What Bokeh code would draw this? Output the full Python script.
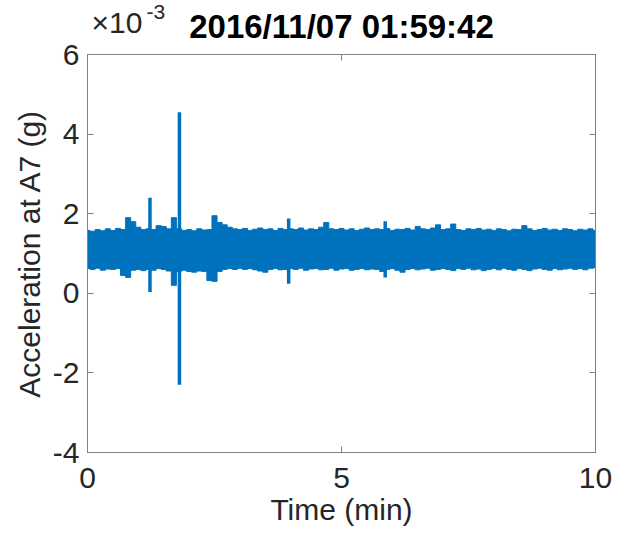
from bokeh.plotting import figure
from bokeh.layouts import column
from bokeh.models import Range1d, LinearAxis, FixedTicker, ColumnDataSource
from bokeh.core.properties import value
from bokeh.embed import file_html
from bokeh.resources import INLINE

# ---- data (values in units of 1e-3 g) ----
title_text = "2016/11/07 01:59:42"
exponent_base = "\u00d710"
exponent_power = "-3"
x_ticks = [0, 5, 10]
y_ticks = [-4, -2, 0, 2, 4, 6]
y_tick_labels = {-4: "-4", -2: "-2", 0: "0", 2: "2", 4: "4", 6: "6"}

# envelope of the dense vibration record, sampled every 0.1 min
env_time = [i / 10 for i in range(101)]
env_upper = [
    1.58, 1.56, 1.60, 1.57, 1.62, 1.58, 1.63, 1.60, 1.90, 1.80,
    1.66, 1.60, 1.62, 1.60, 1.70, 1.68, 1.62, 1.90, 1.62, 1.58,
    1.60, 1.57, 1.62, 1.59, 1.60, 1.95, 1.78, 1.72, 1.66, 1.62,
    1.60, 1.63, 1.58, 1.61, 1.64, 1.60, 1.62, 1.58, 1.63, 1.60,
    1.62, 1.60, 1.64, 1.59, 1.62, 1.60, 1.66, 1.78, 1.62, 1.60,
    1.63, 1.59, 1.62, 1.58, 1.61, 1.64, 1.60, 1.62, 1.60, 1.63,
    1.58, 1.61, 1.60, 1.63, 1.59, 1.68, 1.62, 1.60, 1.64, 1.72,
    1.60, 1.62, 1.74, 1.60, 1.58, 1.62, 1.60, 1.63, 1.59, 1.61,
    1.58, 1.62, 1.60, 1.57, 1.61, 1.60, 1.70, 1.62, 1.58, 1.60,
    1.63, 1.59, 1.61, 1.58, 1.62, 1.60, 1.57, 1.61, 1.59, 1.62,
    1.58,
]
env_lower = [
    0.62, 0.60, 0.63, 0.58, 0.61, 0.60, 0.62, 0.45, 0.40, 0.58,
    0.60, 0.57, 0.60, 0.58, 0.62, 0.60, 0.56, 0.20, 0.55, 0.58,
    0.55, 0.53, 0.56, 0.55, 0.32, 0.30, 0.55, 0.60, 0.62, 0.60,
    0.63, 0.60, 0.62, 0.59, 0.56, 0.53, 0.60, 0.62, 0.59, 0.60,
    0.62, 0.60, 0.63, 0.58, 0.61, 0.62, 0.59, 0.60, 0.63, 0.58,
    0.61, 0.62, 0.58, 0.60, 0.62, 0.59, 0.61, 0.60, 0.55, 0.60,
    0.62, 0.58, 0.53, 0.60, 0.62, 0.59, 0.61, 0.63, 0.58, 0.60,
    0.62, 0.60, 0.57, 0.62, 0.60, 0.63, 0.59, 0.61, 0.57, 0.60,
    0.62, 0.59, 0.63, 0.60, 0.58, 0.62, 0.60, 0.57, 0.61, 0.63,
    0.60, 0.58, 0.62, 0.59, 0.61, 0.63, 0.60, 0.62, 0.59, 0.63,
    0.64,
]

# isolated short spikes
spike_time = [1.23, 1.81, 3.96, 5.86]
spike_top = [2.40, 4.55, 1.88, 1.81]
spike_bottom = [0.03, -2.30, 0.24, 0.40]

# ---- styling ----
BLUE = "#0072BD"
AX = "#808080"
TXT = "#262626"
FONT = "Liberation Sans"
W = 626
HEAD_H = 40
MAIN_H = 544 - HEAD_H

# ---- header strip: exponent marker and title ----
head = figure(width=W, height=HEAD_H, x_range=Range1d(0, W), y_range=Range1d(0, HEAD_H),
              output_backend="svg", toolbar_location=None,
              x_axis_type=None, y_axis_type=None,
              min_border=0, min_border_left=0, min_border_right=0,
              min_border_top=0, min_border_bottom=0)
if "frame_align" in head.properties():
    head.frame_align = False
head.outline_line_color = None
head.xgrid.visible = False
head.ygrid.visible = False
head.text(x=[341], y=[14], text=[title_text], text_font=value(FONT),
          text_font_size="33px", text_font_style="bold", text_color="#000000",
          text_align="center", text_baseline="alphabetic")
head.text(x=[91], y=[18], text=[exponent_base], text_font=value(FONT),
          text_font_size="30px", text_color=TXT, text_align="left",
          text_baseline="alphabetic")
head.text(x=[146], y=[29], text=[exponent_power], text_font=value(FONT),
          text_font_size="21px", text_color=TXT, text_align="left",
          text_baseline="alphabetic")

# ---- main plot ----
p = figure(width=W, height=MAIN_H, x_range=Range1d(0, 10), y_range=Range1d(-4, 6),
           output_backend="svg", toolbar_location=None,
           min_border_left=87, min_border_right=31, min_border_top=14, min_border_bottom=92,
           x_axis_label="Time (min)", y_axis_label="Acceleration at A7 (g)")
if "frame_align" in p.properties():
    p.frame_align = False

p.xgrid.visible = False
p.ygrid.visible = False
p.outline_line_color = AX
p.background_fill_color = "white"
p.border_fill_color = "white"

src_env = ColumnDataSource(dict(t=env_time, up=env_upper, lo=env_lower))
p.vbar(x="t", top="up", bottom="lo", width=0.1, source=src_env,
       fill_color=BLUE, line_color=BLUE, line_width=1)

src_sp = ColumnDataSource(dict(t=spike_time, up=spike_top, lo=spike_bottom))
p.segment(x0="t", y0="lo", x1="t", y1="up", source=src_sp,
          line_color=BLUE, line_width=3.5)

for ax in (p.xaxis[0], p.yaxis[0]):
    ax.axis_line_color = AX
    ax.major_tick_line_color = AX
    ax.major_tick_in = 6
    ax.major_tick_out = 0
    ax.minor_tick_line_color = None
    ax.major_label_text_font = FONT
    ax.major_label_text_font_size = "30px"
    ax.major_label_text_color = TXT
    ax.axis_label_text_font = FONT
    ax.axis_label_text_font_size = "30px"
    ax.axis_label_text_font_style = "normal"
    ax.axis_label_text_color = TXT

p.xaxis[0].ticker = FixedTicker(ticks=x_ticks)
p.yaxis[0].ticker = FixedTicker(ticks=y_ticks)
p.yaxis[0].major_label_overrides = y_tick_labels
p.xaxis[0].major_label_standoff = 15
p.yaxis[0].major_label_standoff = 8
p.xaxis[0].axis_label_standoff = 2
p.yaxis[0].axis_label_standoff = 4

# box ticks on top and right (no labels)
top_ax = LinearAxis(ticker=FixedTicker(ticks=x_ticks), major_label_text_font_size="0px",
                    major_label_overrides={t: "" for t in x_ticks},
                    axis_line_color=AX, major_tick_line_color=AX, major_tick_in=6,
                    major_tick_out=0, minor_tick_line_color=None, major_label_standoff=0)
right_ax = LinearAxis(ticker=FixedTicker(ticks=y_ticks), major_label_text_font_size="0px",
                      major_label_overrides={t: "" for t in y_ticks},
                      axis_line_color=AX, major_tick_line_color=AX, major_tick_in=6,
                      major_tick_out=0, minor_tick_line_color=None, major_label_standoff=0)
p.add_layout(top_ax, "above")
p.add_layout(right_ax, "right")

layout = column(head, p, spacing=0)
open("out.html", "w").write(file_html(layout, INLINE))
